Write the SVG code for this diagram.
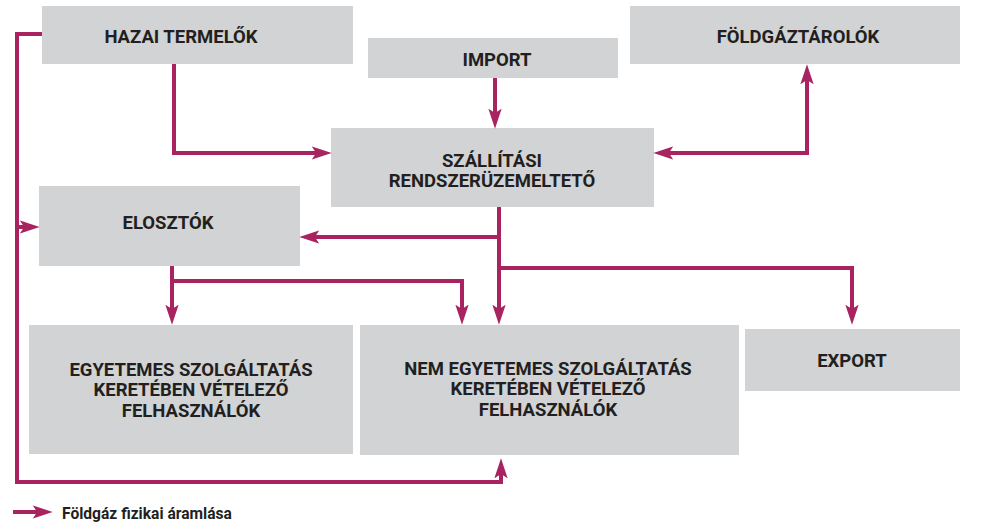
<svg xmlns="http://www.w3.org/2000/svg" width="991" height="531" viewBox="0 0 991 531">
<style>
.box{fill:#d1d3d4}
.lbl{font-family:Roboto,"Liberation Sans",sans-serif;font-weight:bold;font-size:18.5px;fill:#231f20;text-anchor:middle}
.leg{font-family:Roboto,"Liberation Sans",sans-serif;font-weight:bold;font-size:15.6px;fill:#231f20}
.c{fill:none;stroke:#a8235f;stroke-width:4;stroke-linejoin:miter;stroke-linecap:butt}
</style>
<defs>
<marker id="ah" markerUnits="userSpaceOnUse" markerWidth="20" markerHeight="14" viewBox="0 0 18 12" refX="12" refY="6" orient="auto-start-reverse">
<path d="M0,0 L18,6 L0,12 L4,6 z" fill="#a8235f"/>
</marker>
</defs>
<rect width="991" height="531" fill="#ffffff"/>
<g id="hazai"><rect class="box" x="42" y="6" width="311" height="58"/><text class="lbl" x="181" y="43">HAZAI TERMELŐK</text></g>
<g id="import"><rect class="box" x="368" y="38" width="250" height="40"/><text class="lbl" x="497" y="66">IMPORT</text></g>
<g id="foldgaztarolok"><rect class="box" x="630" y="6" width="330" height="58"/><text class="lbl" x="798" y="43">FÖLDGÁZTÁROLÓK</text></g>
<g id="szallitasi"><rect class="box" x="331" y="128" width="323" height="79"/><text class="lbl" x="492" y="167">SZÁLLÍTÁSI</text><text class="lbl" x="492" y="187">RENDSZERÜZEMELTETŐ</text></g>
<g id="elosztok"><rect class="box" x="39" y="186" width="261" height="80"/><text class="lbl" x="168" y="229">ELOSZTÓK</text></g>
<g id="egyetemes"><rect class="box" x="29" y="325" width="324" height="129"/><text class="lbl" x="191" y="376">EGYETEMES SZOLGÁLTATÁS</text><text class="lbl" x="191" y="396">KERETÉBEN VÉTELEZŐ</text><text class="lbl" x="191" y="417">FELHASZNÁLÓK</text></g>
<g id="nemegyetemes"><rect class="box" x="360" y="325" width="379" height="130"/><text class="lbl" x="548" y="375">NEM EGYETEMES SZOLGÁLTATÁS</text><text class="lbl" x="548" y="395">KERETÉBEN VÉTELEZŐ</text><text class="lbl" x="548" y="416">FELHASZNÁLÓK</text></g>
<g id="export"><rect class="box" x="745" y="329" width="215" height="62"/><text class="lbl" x="852" y="367">EXPORT</text></g>
<g id="connectors">
<path class="c" d="M42,34 H17 V482 H501 V465" marker-end="url(#ah)"/>
<path class="c" d="M17,227 H33" marker-end="url(#ah)"/>
<path class="c" d="M174,64 V153 H325" marker-end="url(#ah)"/>
<path class="c" d="M495,78 V122" marker-end="url(#ah)"/>
<path class="c" d="M660,153 H807 V71" marker-start="url(#ah)" marker-end="url(#ah)"/>
<path class="c" d="M499,207 V318" marker-end="url(#ah)"/>
<path class="c" d="M499,237 H306" marker-end="url(#ah)"/>
<path class="c" d="M499,268 H852 V318" marker-end="url(#ah)"/>
<path class="c" d="M172,266 V318" marker-end="url(#ah)"/>
<path class="c" d="M172,281 H462 V318" marker-end="url(#ah)"/>
</g>
<g id="legend">
<path class="c" d="M13,512 H46" marker-end="url(#ah)"/>
<text class="leg" x="62" y="519">Földgáz fizikai áramlása</text>
</g>
</svg>
